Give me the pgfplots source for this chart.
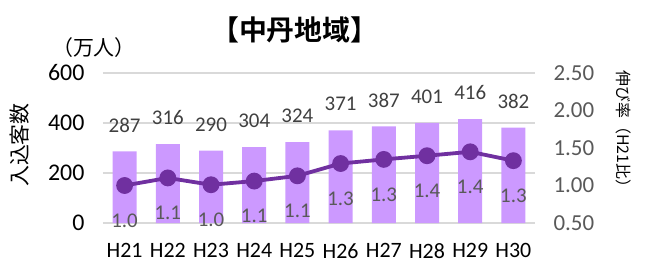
\documentclass[border=0pt]{standalone}
\usepackage{pgfplots}
\pgfplotsset{compat=1.18}
\usepackage{fontspec}
\setmainfont{Carlito}
\newfontfamily\cjk{Noto Sans CJK JP}
\newfontfamily\cjkb{Noto Sans CJK JP Bold}
\definecolor{barc}{HTML}{CC99FF}
\definecolor{linec}{HTML}{7030A0}
\definecolor{gridc}{HTML}{D9D9D9}
\definecolor{labc}{HTML}{595959}
\definecolor{darkc}{HTML}{404040}
\pgfplotstableread{
x v r
0 287 1.000
1 316 1.101
2 290 1.010
3 304 1.059
4 324 1.129
5 371 1.293
6 387 1.348
7 401 1.397
8 416 1.449
9 382 1.331
}\datatab
\begin{document}
\begin{tikzpicture}
\begin{axis}[
  scale only axis, width=432bp, height=150bp,
  xmin=-0.5, xmax=9.5, ymin=0, ymax=600,
  xtick={0,...,9},
  xticklabels={H21,H22,H23,H24,H25,H26,H27,H28,H29,H30},
  ytick={0,200,400,600},
  ymajorgrids, grid style={gridc, line width=1.5bp},
  axis line style={draw=none},
  major tick length=0pt,
  /pgf/number format/assume math mode=true,
  xticklabel shift=17bp,
  yticklabel shift=15bp,
  xticklabel style={font=\fontsize{22}{24}\selectfont, color=black},
  yticklabel style={font=\fontsize{24}{26}\selectfont, color=black},
  clip=false,
]
\addplot[ybar, bar width=24bp, fill=barc, draw=none,
  nodes near coords,
  every node near coord/.append style={anchor=center, yshift=26bp,
    font=\fontsize{21}{24}\selectfont, color=darkc}]
  table[x=x, y=v] {\datatab};
\node[font=\cjkb\fontsize{28}{30}\selectfont] at (rel axis cs:0.444,1.287) {【中丹地域】};
\node[font=\cjk\fontsize{21}{22}\selectfont] at (rel axis cs:-0.021,1.173) {（万人）};
\node[font=\cjk\fontsize{21}{22}\selectfont, rotate=90] at (rel axis cs:-0.192,0.52) {入込客数};
\node[font=\cjk\fontsize{16}{18}\selectfont, rotate=-90] at (rel axis cs:1.204,0.60) {伸び率（H21比）};
\end{axis}
\begin{axis}[
  scale only axis, width=432bp, height=150bp,
  xmin=-0.5, xmax=9.5, ymin=0.5, ymax=2.5,
  axis x line=none,
  axis y line*=right,
  axis line style={draw=none},
  major tick length=0pt,
  ytick={0.5,1,1.5,2,2.5},
  /pgf/number format/assume math mode=true,
  yticklabel shift=15bp,
  yticklabel style={font=\fontsize{23}{26}\selectfont, color=labc,
    /pgf/number format/fixed, /pgf/number format/fixed zerofill, /pgf/number format/precision=2},
  clip=false,
]
\addplot[color=linec, line width=3.8bp, mark=*, mark size=6.5bp,
  mark options={fill=linec, draw=linec},
  nodes near coords,
  nodes near coords style={/pgf/number format/fixed, /pgf/number format/fixed zerofill, /pgf/number format/precision=1},
  every node near coord/.append style={anchor=center, yshift=-35bp,
    font=\fontsize{21}{24}\selectfont, color=labc}]
  table[x=x, y=r] {\datatab};
\end{axis}
\pgfresetboundingbox
\path (-103bp,-40bp) rectangle (543bp,223bp);
\end{tikzpicture}
\end{document}
